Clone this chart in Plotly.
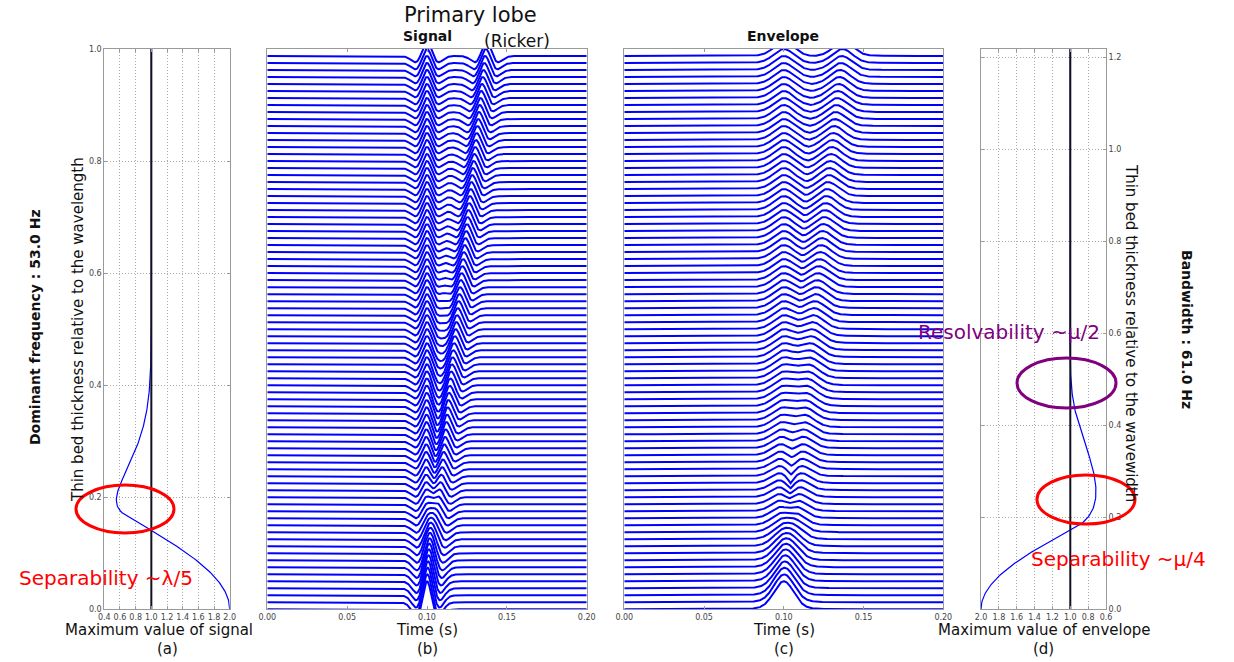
import numpy as np
import plotly.graph_objects as go

# ---------------- data / model parameters ----------------
W, H = 1234, 662
DOMINANT_FREQ_HZ = 53.0          # "Dominant frequency : 53.0 Hz"
BANDWIDTH_HZ = 61.0              # "Bandwidth : 61.0 Hz"
FIRST_REFLECTOR_S = 0.10         # time of the top reflector
N_TRACES = 80                    # traces in panels (b) and (c)
TRACE_THICKNESS = [i / N_TRACES for i in range(N_TRACES)]   # relative to wavelength
TRACE_GAIN = 0.025               # trace amplitude scaling in (b), (c)
TIME_RANGE_S = [0.0, 0.20]
N_SAMPLES = 1601
CURVE_THICKNESS = [i / 400 for i in range(401)]             # for panels (a) and (d)
WAVEWIDTH_PER_WAVELENGTH = 1.218  # y-scale of panel (d)
REFERENCE_MAX = 1.0              # single-wavelet maximum (black line)

SIGNAL_TICKS = [0.4, 0.6, 0.8, 1.0, 1.2, 1.4, 1.6, 1.8, 2.0]
ENVELOPE_TICKS = [2.0, 1.8, 1.6, 1.4, 1.2, 1.0, 0.8, 0.6]
THICK_TICKS_A = [0.0, 0.2, 0.4, 0.6, 0.8, 1.0]
THICK_TICKS_D = [0.0, 0.2, 0.4, 0.6, 0.8, 1.0, 1.2]
TIME_TICKS = [0.0, 0.05, 0.10, 0.15, 0.20]

BLUE = "#0000ff"

# ---------------- model: two Ricker wavelets (thin bed) ----------------
t = np.linspace(TIME_RANGE_S[0], TIME_RANGE_S[1], N_SAMPLES)


def ricker(tt, t0, f):
    a = (np.pi * f * (tt - t0)) ** 2
    return (1 - 2 * a) * np.exp(-a)


def envelope(sig):
    n = len(sig)
    spec = np.fft.fft(sig)
    hh = np.zeros(n)
    if n % 2 == 0:
        hh[0] = hh[n // 2] = 1
        hh[1:n // 2] = 2
    else:
        hh[0] = 1
        hh[1:(n + 1) // 2] = 2
    return np.abs(np.fft.ifft(spec * hh))


def thin_bed(h):
    delay = 2.0 * h / DOMINANT_FREQ_HZ
    return (ricker(t, FIRST_REFLECTOR_S, DOMINANT_FREQ_HZ)
            + ricker(t, FIRST_REFLECTOR_S + delay, DOMINANT_FREQ_HZ))


# traces
sig_x, sig_y, env_x, env_y = [], [], [], []
step = 2
for h in TRACE_THICKNESS:
    s = thin_bed(h)
    e = envelope(s)
    sig_x += list(t[::step]) + [None]
    sig_y += list(h + TRACE_GAIN * s[::step]) + [None]
    env_x += list(t[::step]) + [None]
    env_y += list(h + TRACE_GAIN * e[::step]) + [None]

# curves
max_sig, max_env = [], []
for h in CURVE_THICKNESS:
    s = thin_bed(h)
    max_sig.append(float(s.max()))
    max_env.append(float(envelope(s).max()))
curve_y_d = [h * WAVEWIDTH_PER_WAVELENGTH for h in CURVE_THICKNESS]


# ---------------- layout helpers (pixel -> paper) ----------------
def px(x):
    return x / W


def py(y):
    return 1 - y / H


TOP, BOT = 49, 609.3
YDOM = [py(BOT), py(TOP)]
DOM_A = [px(104.3), px(229.7)]
DOM_B = [px(267.3), px(586.7)]
DOM_C = [px(624.3), px(943.3)]
DOM_D = [px(981), px(1106)]

fig = go.Figure()

# (a)
fig.add_trace(go.Scatter(x=max_sig, y=CURVE_THICKNESS, mode="lines",
                         line=dict(color=BLUE, width=1.2), xaxis="x", yaxis="y",
                         showlegend=False))
fig.add_trace(go.Scatter(x=[REFERENCE_MAX, REFERENCE_MAX], y=[0, 1], mode="lines",
                         line=dict(color="#111122", width=2), xaxis="x", yaxis="y",
                         showlegend=False, hoverinfo="skip"))
# (b)
fig.add_trace(go.Scatter(x=sig_x, y=sig_y, mode="lines", line=dict(color=BLUE, width=2),
                         xaxis="x2", yaxis="y2", showlegend=False, hoverinfo="skip"))
# (c)
fig.add_trace(go.Scatter(x=env_x, y=env_y, mode="lines", line=dict(color=BLUE, width=2),
                         xaxis="x3", yaxis="y3", showlegend=False, hoverinfo="skip"))
# (d)
fig.add_trace(go.Scatter(x=max_env, y=curve_y_d, mode="lines",
                         line=dict(color=BLUE, width=1.2), xaxis="x4", yaxis="y4",
                         showlegend=False))
fig.add_trace(go.Scatter(x=[REFERENCE_MAX, REFERENCE_MAX], y=[0, WAVEWIDTH_PER_WAVELENGTH],
                         mode="lines", line=dict(color="#111122", width=2),
                         xaxis="x4", yaxis="y4", showlegend=False, hoverinfo="skip"))

tickfont = dict(family="DejaVu Sans", size=8, color="#444444")
frame = dict(showline=True, mirror="ticks", linecolor="#9a9a9a", linewidth=1,
             ticks="inside", ticklen=3, tickcolor="#9a9a9a", zeroline=False,
             tickfont=tickfont, automargin=False)
grid = dict(showgrid=True, gridcolor="#aaaaaa", griddash="1px,2px", gridwidth=1)
plain_y = dict(showticklabels=False, showgrid=False, showline=True, mirror=True,
               linecolor="#9a9a9a", zeroline=False, automargin=False, ticks="")

fig.update_layout(
    template="none",
    width=W, height=H, margin=dict(l=0, r=0, t=0, b=0, pad=0, autoexpand=False),
    paper_bgcolor="white", plot_bgcolor="white", showlegend=False,
    xaxis=dict(domain=DOM_A, range=[0.4, 2.0], tickvals=SIGNAL_TICKS,
               ticktext=[f"{v:.1f}" for v in SIGNAL_TICKS], anchor="y", **frame, **grid),
    yaxis=dict(domain=YDOM, range=[0, 1], tickvals=THICK_TICKS_A,
               ticktext=[f"{v:.1f}" for v in THICK_TICKS_A], anchor="x", **frame, **grid),
    xaxis2=dict(domain=DOM_B, range=TIME_RANGE_S, tickvals=TIME_TICKS,
                ticktext=[f"{v:.2f}" for v in TIME_TICKS], anchor="y2", showgrid=False, **frame),
    yaxis2=dict(domain=YDOM, range=[0, 1], anchor="x2", **plain_y),
    xaxis3=dict(domain=DOM_C, range=TIME_RANGE_S, tickvals=TIME_TICKS,
                ticktext=[f"{v:.2f}" for v in TIME_TICKS], anchor="y3", showgrid=False, **frame),
    yaxis3=dict(domain=YDOM, range=[0, 1], anchor="x3", **plain_y),
    xaxis4=dict(domain=DOM_D, range=[2.0, 0.6], tickvals=ENVELOPE_TICKS,
                ticktext=[f"{v:.1f}" for v in ENVELOPE_TICKS], anchor="y4", **frame, **grid),
    yaxis4=dict(domain=YDOM, range=[0, WAVEWIDTH_PER_WAVELENGTH], tickvals=THICK_TICKS_D,
                ticktext=[f"{v:.1f}" for v in THICK_TICKS_D], side="right", anchor="x4",
                **frame, **grid),
)

TXT = "DejaVu Sans"
ann = []


def add_text(text, x, y, size, color="#111111", angle=0, bold=False, family=TXT):
    if bold:
        text = f"<b>{text}</b>"
    ann.append(dict(text=text, x=px(x), y=py(y), xref="paper", yref="paper",
                    showarrow=False, xanchor="center", yanchor="middle",
                    textangle=angle, font=dict(family=family, size=size, color=color)))


add_text("Dominant frequency : 53.0 Hz", 35, 327, 14, angle=-90, bold=True)
add_text("Thin bed thickness relative to the wavelength", 78, 329, 15, angle=-90)
add_text("Maximum value of signal", 159, 630, 15)
add_text("(a)", 167, 649, 15)
add_text("Signal", 427, 36, 14, bold=True)
add_text("Time (s)", 427, 630, 15)
add_text("(b)", 427, 649, 15)
add_text("Envelope", 783, 36, 14, bold=True)
add_text("Time (s)", 784, 630, 15)
add_text("(c)", 784, 649, 15)
add_text("Maximum value of envelope", 1044, 630, 15)
add_text("(d)", 1043, 649, 15)
add_text("Thin bed thickness relative to the wavewidth", 1131, 333, 15, angle=90)
add_text("Bandwidth : 61.0 Hz", 1187, 329, 14, angle=90, bold=True)

add_text("Primary lobe", 470, 15, 21)
add_text("(Ricker)", 517, 41, 17)
add_text("Separability ~λ/5", 106, 578, 20, color="#ff0000")
add_text("Resolvability ~μ/2", 1009, 332, 20, color="#800080")
add_text("Separability ~μ/4", 1118, 559, 20, color="#ff0000")

fig.update_layout(annotations=ann)

shapes = []


def ellipse(x0, x1, y0, y1, color):
    shapes.append(dict(type="circle", xref="paper", yref="paper",
                       x0=px(x0), x1=px(x1), y0=py(y1), y1=py(y0),
                       line=dict(color=color, width=3)))


ellipse(76, 174, 485, 533, "#ff0000")
ellipse(1017, 1116, 358, 408, "#800080")
ellipse(1037, 1135, 475, 524, "#ff0000")
fig.update_layout(shapes=shapes)

fig.write_html("out.html", config={"displayModeBar": False},
               post_script="document.body.style.margin='0';document.body.style.overflow='hidden';")
